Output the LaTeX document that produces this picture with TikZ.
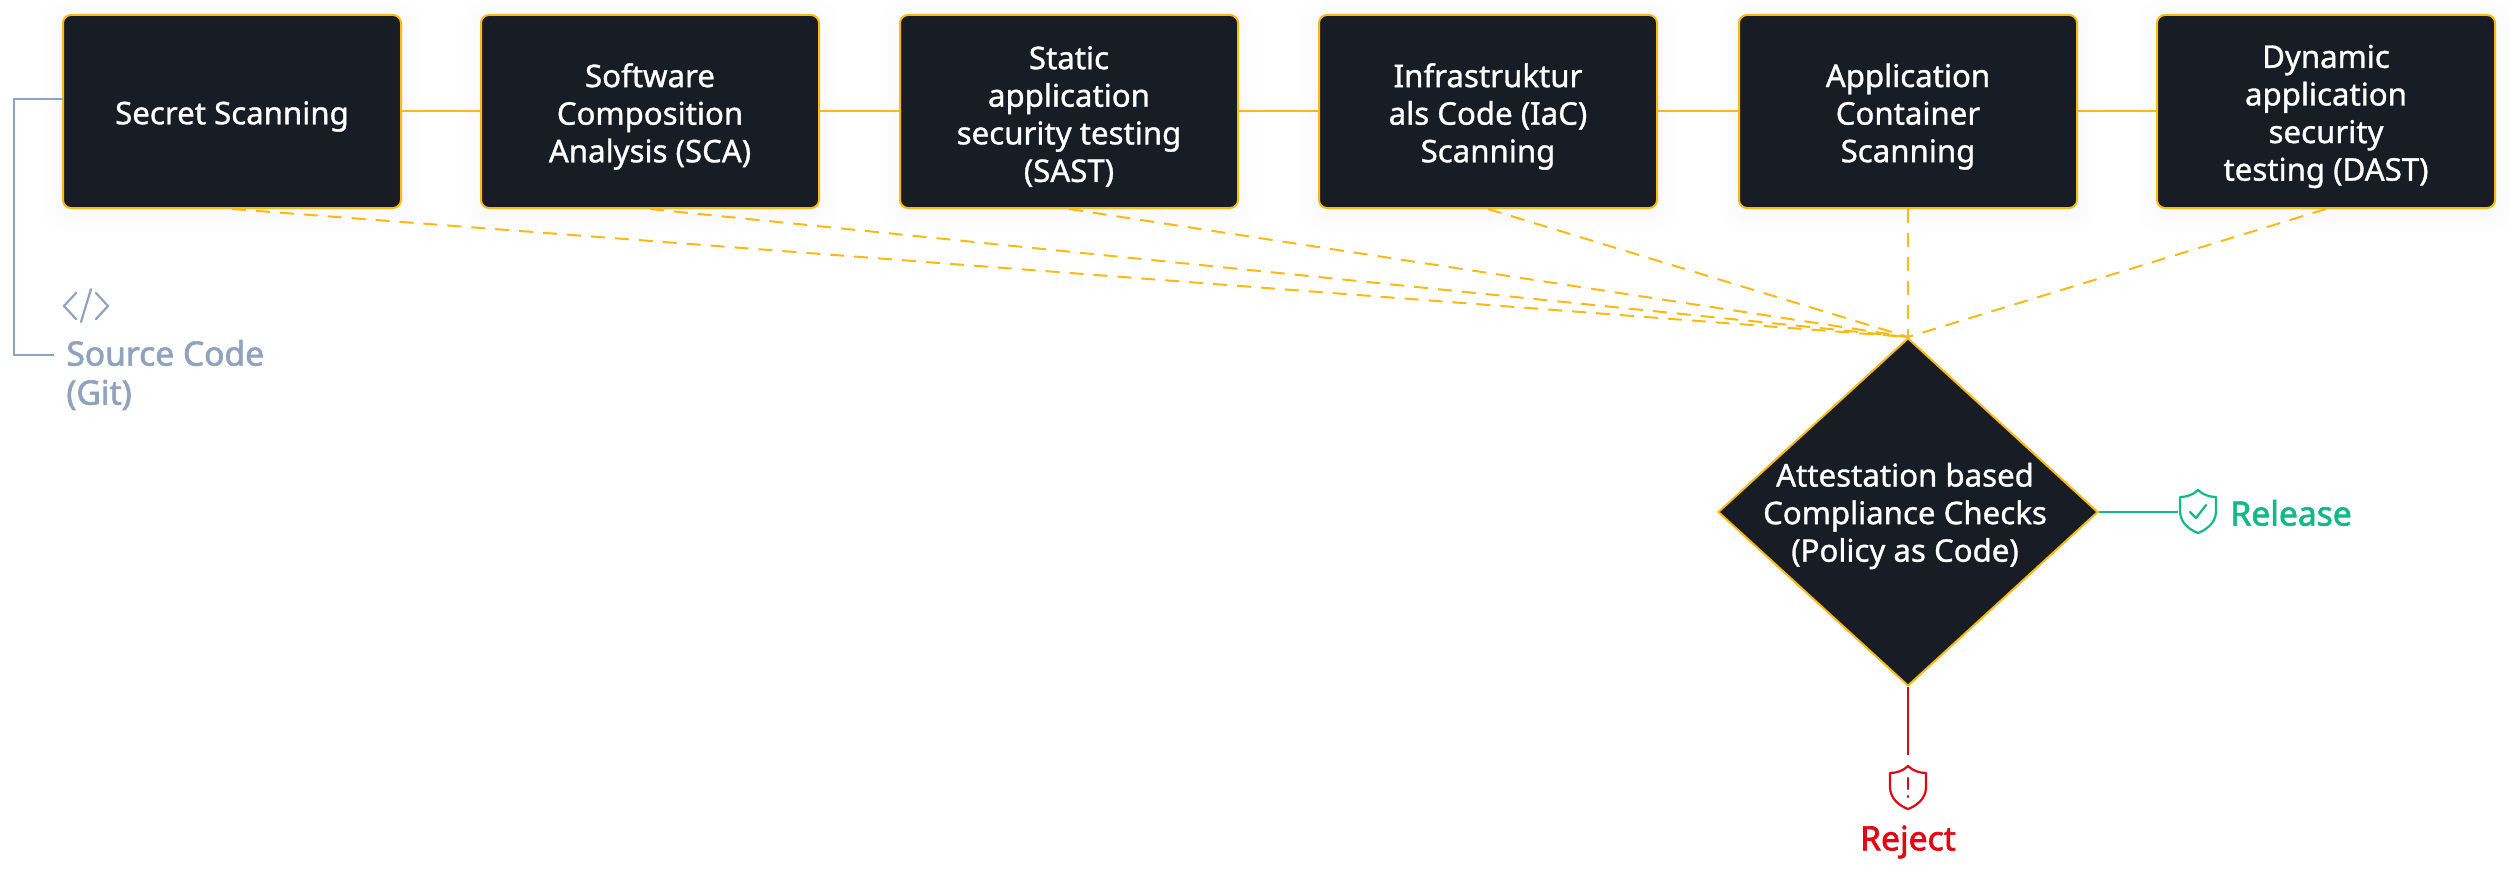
\documentclass[tikz,border=0pt]{standalone}
\usepackage{fontspec}
\setmainfont{Noto Sans}[FakeBold=1.1]
\newfontfamily\labelfont{Noto Sans}[FakeBold=2]
\usetikzlibrary{arrows.meta,positioning,calc,shapes.geometric}
\definecolor{boxdark}{HTML}{181C25}
\definecolor{flowamber}{HTML}{FDB913}
\definecolor{srcgray}{HTML}{8FA3BF}
\definecolor{passgreen}{HTML}{12B886}
\definecolor{failred}{HTML}{E30613}

\begin{document}
\begin{tikzpicture}[
    x=0.5pt, y=-0.5pt,
    scan/.style={draw=flowamber, line width=1pt, fill=boxdark, rounded corners=4pt,
        minimum width=169pt, minimum height=96.5pt, inner sep=0pt},
    scanlabel/.style={text=white, align=center, inner sep=0pt,
        font=\fontsize{15.6}{18.8}\selectfont},
    shade/.style={fill=black, opacity=0.005, draw=none, rounded corners=10pt,
        minimum width=169pt+#1, minimum height=96.5pt+#1},
    link/.style={flowamber, line width=1pt},
    dashlink/.style={flowamber, line width=1pt, dash pattern=on 7pt off 5pt},
    outcome/.style={font=\labelfont\fontsize{16.8}{19.5}\selectfont, inner sep=0pt},
    shield/.pic={
        \draw[line width=1.1pt, line join=round] (0,-21) .. controls (-5,-16) and (-12,-14) .. (-18,-14)
            -- (-18,0) .. controls (-18,12) and (-8,19) .. (0,22)
            .. controls (8,19) and (18,12) .. (18,0) -- (18,-14)
            .. controls (12,-14) and (5,-16) .. (0,-21) -- cycle;
    }
]
\useasboundingbox (0,0) rectangle (2510,872);

\foreach \x/\name/\txt in {
    232/secret/{Secret Scanning},
    650/sca/{Software\\Composition\\Analysis (SCA)},
    1069/sast/{Static\\application\\security testing\\(SAST)},
    1488/iac/{Infrastruktur\\als Code (IaC)\\Scanning},
    1908/container/{Application\\Container\\Scanning},
    2326/dast/{Dynamic\\application\\security\\testing (DAST)}} {
    \foreach \g in {4,8,12,16,20}
        \node[shade=\g pt] at (\x, 116) {};
    \node[scan] (\name) at (\x, 111.5) {};
    \node[scanlabel] (\name text) at (\x, 116.5) {\txt};
}

% Chain of scanners
\foreach \a/\b in {secret/sca, sca/sast, sast/iac, iac/container, container/dast}
    \draw[link] (\a) -- (\b);

% Decision
\node[diamond, draw=flowamber, line width=1pt, fill=boxdark, inner sep=0pt,
    minimum width=190pt, minimum height=174pt, aspect=1.09] (check) at (1908, 512) {};
\node[scanlabel] (checktext) at (1905, 516)
    {Attestation based\\Compliance Checks\\(Policy as Code)};

\foreach \n in {secret, sca, sast, iac, container, dast}
    \draw[dashlink] (\n.south) -- (check.north);

% Source
\coordinate (srcin) at (63, 99);
\coordinate (srcout) at (54, 355);
\node[outcome, text=srcgray, anchor=west, align=left] (source) at (66, 375) {Source Code\\(Git)};
\draw[srcgray, line width=1pt] (srcin) -- (14, 99) -- (14, 355) -- (srcout);
\draw[srcgray, line width=1.1pt, line cap=round, line join=round]
    (76, 293) -- (64, 306) -- (76, 319)
    (91, 289) -- (81, 322)
    (96, 293) -- (108, 306) -- (96, 319);

% Results
\coordinate (passend) at (2178, 512);
\coordinate (failend) at (1908, 755);
\draw[passgreen, line width=1pt] (check.east) -- (passend);
\draw[failred, line width=1pt] (check.south) -- (failend);

\pic[passgreen] at (2198, 511) {shield};
\draw[passgreen, line width=1.1pt, line cap=round, line join=round] (2190, 512) -- (2196, 518) -- (2206, 505);
\node[outcome, text=passgreen, anchor=west] (release) at (2230, 513) {Release};

\pic[failred] at (1908, 787) {shield};
\draw[failred, line width=1.1pt, line cap=round] (1908, 778) -- (1908, 789) (1908, 796) -- (1908, 797);
\node[outcome, text=failred] (reject) at (1908, 842) {Reject};
\end{tikzpicture}
\end{document}
